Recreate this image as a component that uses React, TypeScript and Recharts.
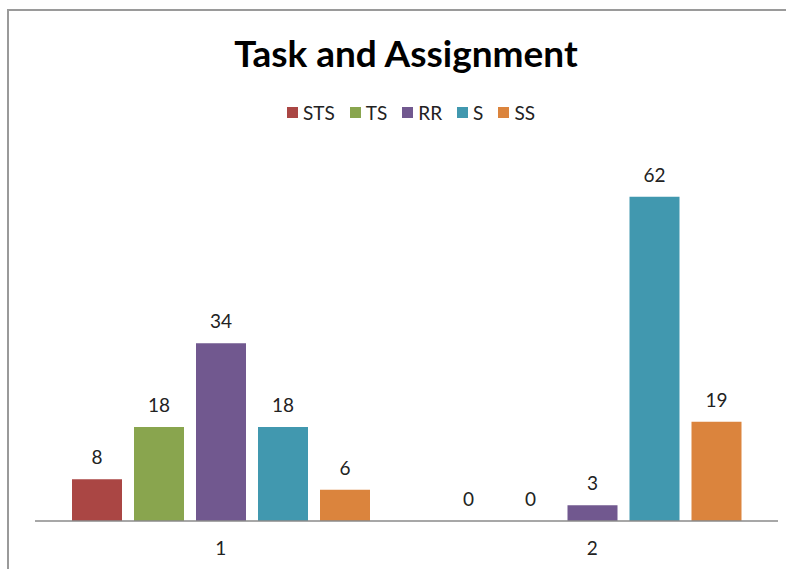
import React from 'react';
import { BarChart, Bar, XAxis, YAxis, LabelList } from 'recharts';

const categories = ['1', '2'];
const seriesNames = ['STS', 'TS', 'RR', 'S', 'SS'];
const STS = [8, 0];
const TS = [18, 0];
const RR = [34, 3];
const S = [18, 62];
const SS = [6, 19];
const colors = ['#AA4644', '#89A54E', '#71588F', '#4198AF', '#DB843D'];

const seriesValues = [STS, TS, RR, S, SS];
const data = categories.map((c, i) => {
  const row: any = { name: c };
  seriesNames.forEach((s, k) => {
    row[s] = seriesValues[k][i];
  });
  return row;
});

const FONT = 'Lato, "Open Sans", sans-serif';

export default function App() {
  return (
    <div style={{ position: 'absolute', left: 0, top: 0, width: 786, height: 569, background: '#fff', overflow: 'hidden' }}>
      <div style={{ position: 'absolute', left: 7, top: 9, width: 800, height: 600, borderLeft: '2px solid #9a9a9a', borderTop: '2px solid #9a9a9a' }} />
      <div style={{ position: 'absolute', left: 0, top: 30, width: 812, textAlign: 'center', fontFamily: FONT, fontWeight: 700, fontSize: 37, color: '#000', lineHeight: '46px' }}>
        Task and Assignment
      </div>
      <div style={{ position: 'absolute', left: 0, top: 100, width: 822, height: 24, display: 'flex', justifyContent: 'center', alignItems: 'center', fontFamily: FONT, fontSize: 19, color: '#222' }}>
        {seriesNames.map((name, i) => (
          <div key={name} style={{ display: 'flex', alignItems: 'center', marginRight: i < seriesNames.length - 1 ? 15 : 0 }}>
            <span style={{ display: 'inline-block', width: 11, height: 11, background: colors[i], marginRight: 5 }} />
            <span>{name}</span>
          </div>
        ))}
      </div>
      <div style={{ position: 'absolute', left: 0, top: 0 }}>
        <BarChart width={786} height={569} data={data} margin={{ top: 155, right: 8, left: 35, bottom: 0 }} barCategoryGap={37} barGap={12}>
          <XAxis dataKey="name" height={48} axisLine={{ stroke: '#8a8a8a', strokeWidth: 1.5 }} tickLine={false} tick={{ fill: '#222', fontSize: 19, fontFamily: FONT }} tickMargin={15} />
          <YAxis hide domain={[0, 70]} allowDataOverflow />
          {seriesNames.map((s, k) => (
            <Bar key={s} dataKey={s} fill={colors[k]} isAnimationActive={false} minPointSize={0.01}>
              <LabelList dataKey={s} position="top" offset={15} style={{ fill: '#222', fontSize: 19, fontFamily: FONT }} />
            </Bar>
          ))}
        </BarChart>
      </div>
    </div>
  );
}
